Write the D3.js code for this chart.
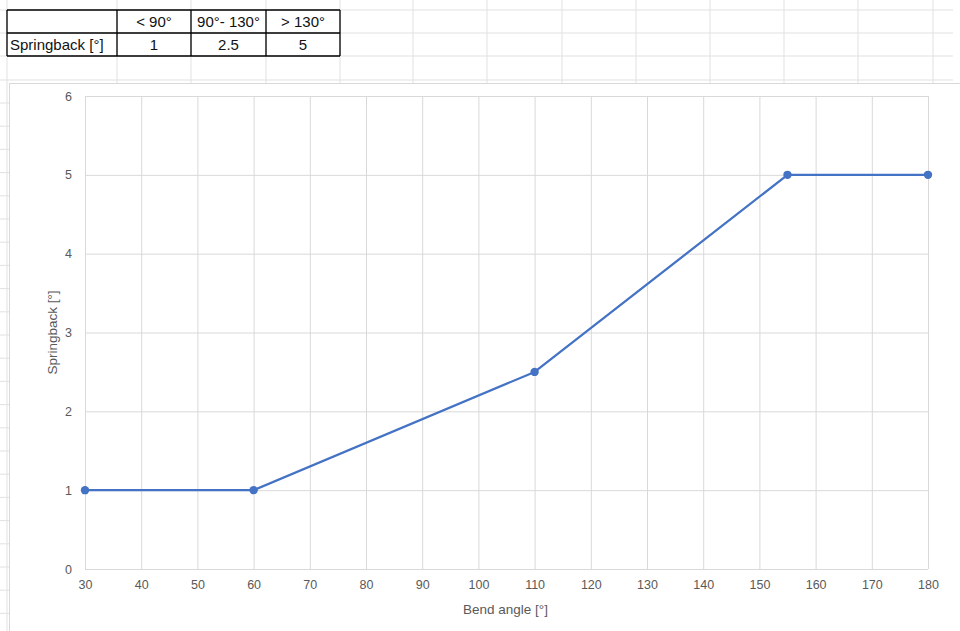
<!DOCTYPE html>
<html><head><meta charset="utf-8">
<script src="https://cdn.jsdelivr.net/npm/d3@7/dist/d3.min.js"></script>
<style>
html,body{margin:0;padding:0;background:#fff;}
svg{display:block;font-family:"Liberation Sans",Arial,sans-serif;}
</style></head>
<body>
<svg id="c" width="960" height="631"></svg>
<script>
// ---- data ----
const tableHeaders = ["< 90°", "90°- 130°", "> 130°"];
const tableRowLabel = "Springback [°]";
const tableValues = ["1", "2.5", "5"];

const bendAngle = [30, 60, 110, 155, 180];
const springback = [1, 1, 2.5, 5, 5];

const xTicks = [30, 40, 50, 60, 70, 80, 90, 100, 110, 120, 130, 140, 150, 160, 170, 180];
const yTicks = [0, 1, 2, 3, 4, 5, 6];
const xTitle = "Bend angle [°]";
const yTitle = "Springback [°]";

// ---- layout ----
const svg = d3.select("#c");
const gridColor = "#e1e1e1";

// spreadsheet background grid
const colLines = [7, 117, 191, 266, 340, 413, 487, 562, 636, 710, 784, 858, 933];
const rowLines = [10, 33, 56, 80];
const sheet = svg.append("g");
rowLines.forEach(y => sheet.append("line").attr("x1", 0).attr("x2", 953).attr("y1", y).attr("y2", y)
  .attr("stroke", gridColor).attr("stroke-width", 1));
colLines.forEach(x => sheet.append("line").attr("x1", x).attr("x2", x).attr("y1", 0).attr("y2", x === 7 ? 631 : 83)
  .attr("stroke", gridColor).attr("stroke-width", 1));
// row marks left of the chart
for (let y = 103; y < 631; y += 23.2) {
  sheet.append("line").attr("x1", 0).attr("x2", 9).attr("y1", y).attr("y2", y).attr("stroke", gridColor);
}

// table
const tCols = [7, 117, 191, 266, 340];
const tRows = [10, 33, 56];
const tbl = svg.append("g");
const cells = [["", ...tableHeaders], [tableRowLabel, ...tableValues]];
cells.forEach((row, r) => {
  row.forEach((txt, c) => {
    const x0 = tCols[c], x1 = tCols[c + 1], y0 = tRows[r], y1 = tRows[r + 1];
    tbl.append("text")
      .attr("x", c === 0 ? x0 + 3 : (x0 + x1) / 2)
      .attr("y", (y0 + y1) / 2 + 5.5)
      .attr("text-anchor", c === 0 ? "start" : "middle")
      .attr("font-size", 15)
      .attr("fill", "#111")
      .text(txt);
  });
});
tRows.forEach(y => tbl.append("line").attr("x1", tCols[0]).attr("x2", tCols[4]).attr("y1", y).attr("y2", y)
  .attr("stroke", "#000").attr("stroke-width", 1.3));
tCols.forEach(x => tbl.append("line").attr("x1", x).attr("x2", x).attr("y1", tRows[0]).attr("y2", tRows[2])
  .attr("stroke", "#000").attr("stroke-width", 1.3));

// chart area
svg.append("rect").attr("x", 9.5).attr("y", 83.5).attr("width", 980).attr("height", 600)
  .attr("fill", "#fff").attr("stroke", "#d9d9d9").attr("stroke-width", 1);

const plot = {left: 85, right: 928, top: 96, bottom: 569};
const x = d3.scaleLinear().domain([30, 180]).range([plot.left, plot.right]);
const y = d3.scaleLinear().domain([0, 6]).range([plot.bottom, plot.top]);

const g = svg.append("g");
// gridlines via axes
const xGrid = d3.axisBottom(x).tickValues(xTicks).tickSize(-(plot.bottom - plot.top)).tickFormat("");
g.append("g").attr("transform", `translate(0,${plot.bottom})`).call(xGrid)
  .call(s => s.select(".domain").remove())
  .call(s => s.selectAll("line").attr("stroke", "#d9d9d9").attr("stroke-width", 1));
const yGrid = d3.axisLeft(y).tickValues(yTicks).tickSize(-(plot.right - plot.left)).tickFormat("");
g.append("g").attr("transform", `translate(${plot.left},0)`).call(yGrid)
  .call(s => s.select(".domain").remove())
  .call(s => s.selectAll("line").attr("stroke", "#d9d9d9").attr("stroke-width", 1));

// tick labels
const xAxis = d3.axisBottom(x).tickValues(xTicks).tickSize(0).tickPadding(11).tickFormat(d3.format("d"));
g.append("g").attr("transform", `translate(0,${plot.bottom})`).call(xAxis)
  .call(s => s.select(".domain").remove())
  .call(s => s.selectAll("text").attr("font-size", 12.5).attr("fill", "#595959")
    .attr("font-family", "Liberation Sans, Arial, sans-serif"));
const yAxis = d3.axisLeft(y).tickValues(yTicks).tickSize(0).tickPadding(13).tickFormat(d3.format("d"));
g.append("g").attr("transform", `translate(${plot.left},0)`).call(yAxis)
  .call(s => s.select(".domain").remove())
  .call(s => s.selectAll("text").attr("font-size", 12.5).attr("fill", "#595959")
    .attr("font-family", "Liberation Sans, Arial, sans-serif"));

// axis titles
svg.append("text").attr("x", (plot.left + plot.right) / 2 - 1).attr("y", 614)
  .attr("text-anchor", "middle").attr("font-size", 13.5).attr("fill", "#595959").text(xTitle);
svg.append("text").attr("transform", `translate(57,${(plot.top + plot.bottom) / 2}) rotate(-90)`)
  .attr("text-anchor", "middle").attr("font-size", 13.5).attr("fill", "#595959").text(yTitle);

// series
const data = bendAngle.map((a, i) => ({a, s: springback[i]}));
const line = d3.line().x(d => x(d.a)).y(d => y(d.s));
g.append("path").datum(data).attr("d", line).attr("fill", "none")
  .attr("stroke", "#4472C4").attr("stroke-width", 2.25).attr("stroke-linejoin", "round");
g.selectAll("circle.pt").data(data).join("circle").attr("class", "pt")
  .attr("cx", d => x(d.a)).attr("cy", d => y(d.s)).attr("r", 4.2).attr("fill", "#4472C4");
</script>
</body></html>
